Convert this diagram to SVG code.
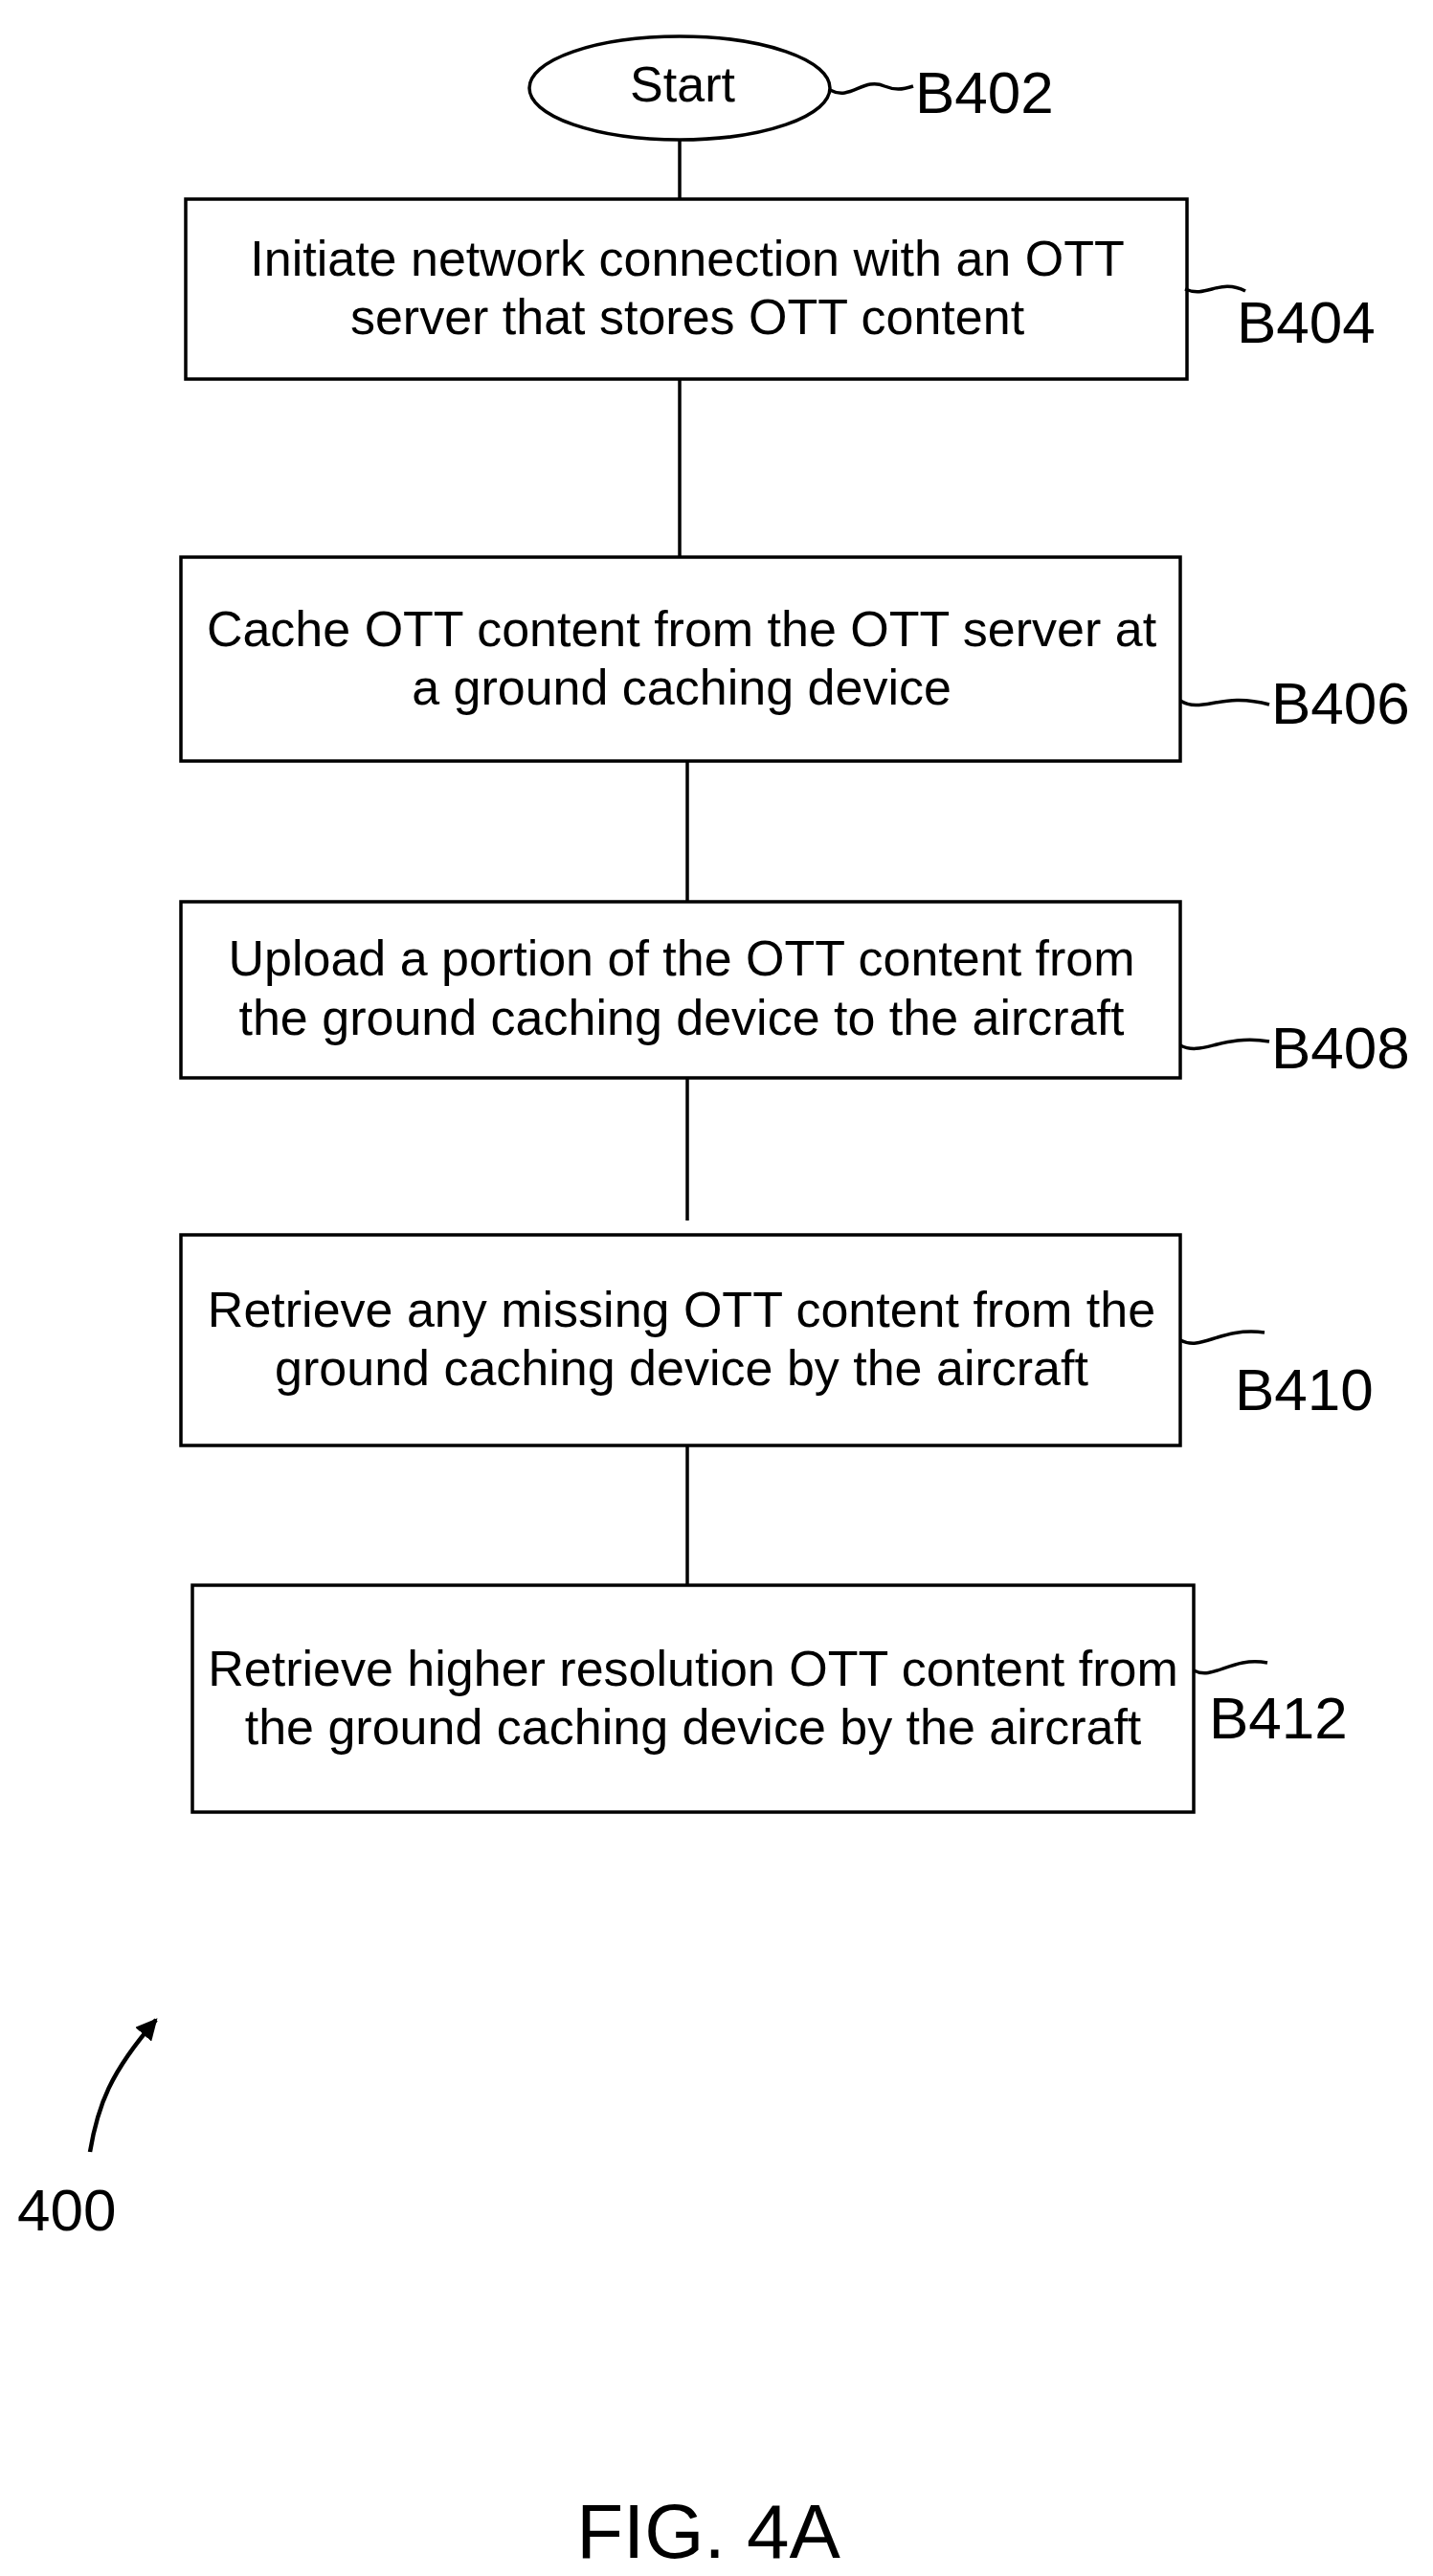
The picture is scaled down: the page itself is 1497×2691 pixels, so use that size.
<svg xmlns="http://www.w3.org/2000/svg" width="1497" height="2691" viewBox="0 0 1497 2691">
<defs>
<style>
.b{fill:#fff;stroke:#000;stroke-width:3.5}
.t{font-family:"Liberation Sans",Arial,sans-serif;font-size:52px;text-anchor:middle;fill:#000}
.l{font-family:"Liberation Sans",Arial,sans-serif;font-size:62px;fill:#000}
.c{fill:none;stroke:#000;stroke-width:3.5}
</style>
<marker id="ah" viewBox="0 0 10 10" refX="9" refY="5" markerWidth="5" markerHeight="5" orient="auto"><path d="M0,0 L10,5 L0,10 z" fill="#000"/></marker>
</defs>
<rect width="1497" height="2691" fill="#fff"/>
<g id="connectors">
<line class="c" x1="710" y1="146" x2="710" y2="208"/>
<line class="c" x1="710" y1="396" x2="710" y2="582"/>
<line class="c" x1="718" y1="795" x2="718" y2="942"/>
<line class="c" x1="718" y1="1126" x2="718" y2="1275"/>
<line class="c" x1="718" y1="1510" x2="718" y2="1656"/>
</g>
<g id="B402">
<ellipse class="b" cx="710" cy="92" rx="157" ry="54"/>
<text class="t" x="713" y="106">Start</text>
<path class="c" d="M867,94 C889,106 902,80 924,90 C934,94 942,94 954,90"/>
<text class="l" x="956" y="118">B402</text>
</g>
<g id="B404">
<rect class="b" x="194" y="208" width="1046" height="188"/>
<text class="t" x="718" y="288">Initiate network connection with an OTT</text>
<text class="t" x="718" y="349">server that stores OTT content</text>
<path class="c" d="M1238,302 C1261,312 1274,290 1301,304"/>
<text class="l" x="1292" y="358">B404</text>
</g>
<g id="B406">
<rect class="b" x="189" y="582" width="1044" height="213"/>
<text class="t" x="712" y="675">Cache OTT content from the OTT server at</text>
<text class="t" x="712" y="736">a ground caching device</text>
<path class="c" d="M1233,732 C1256,746 1276,722 1326,736"/>
<text class="l" x="1328" y="756">B406</text>
</g>
<g id="B408">
<rect class="b" x="189" y="942" width="1044" height="184"/>
<text class="t" x="712" y="1019">Upload a portion of the OTT content from</text>
<text class="t" x="712" y="1081">the ground caching device to the aircraft</text>
<path class="c" d="M1233,1092 C1256,1104 1276,1080 1326,1088"/>
<text class="l" x="1328" y="1116">B408</text>
</g>
<g id="B410">
<rect class="b" x="189" y="1290" width="1044" height="220"/>
<text class="t" x="712" y="1386">Retrieve any missing OTT content from the</text>
<text class="t" x="712" y="1447">ground caching device by the aircraft</text>
<path class="c" d="M1233,1400 C1256,1412 1274,1386 1321,1392"/>
<text class="l" x="1290" y="1473">B410</text>
</g>
<g id="B412">
<rect class="b" x="201" y="1656" width="1046" height="237"/>
<text class="t" x="724" y="1761">Retrieve higher resolution OTT content from</text>
<text class="t" x="724" y="1822">the ground caching device by the aircraft</text>
<path class="c" d="M1247,1745 C1268,1756 1286,1730 1324,1737"/>
<text class="l" x="1263" y="1816">B412</text>
</g>
<g id="ref400">
<path class="c" d="M94,2248 C102,2200 115,2165 163,2110" marker-end="url(#ah)" style="stroke-width:4.5"/>
<text class="l" x="18" y="2330">400</text>
</g>
<text class="l" x="740" y="2672" style="font-size:80px;text-anchor:middle">FIG. 4A</text>
</svg>
